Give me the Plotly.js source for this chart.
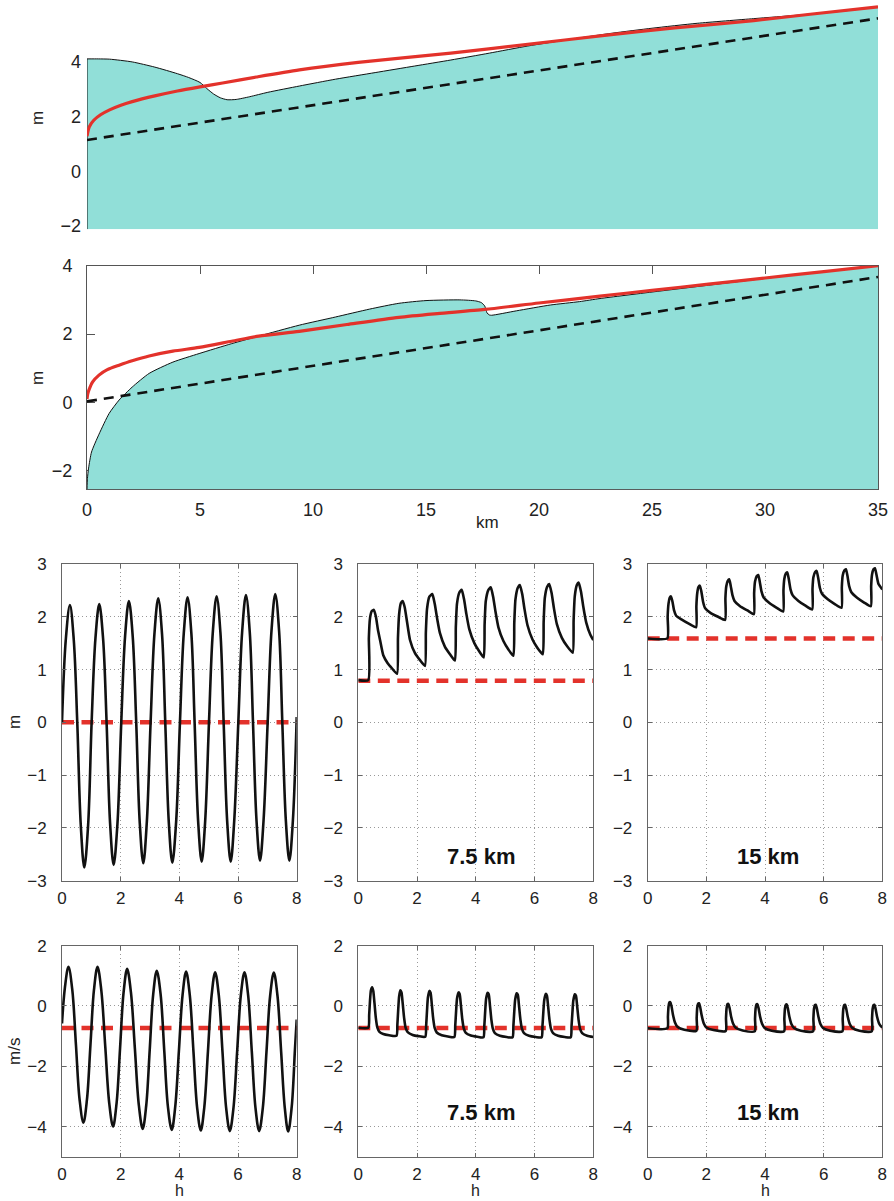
<!DOCTYPE html>
<html>
<head>
<meta charset="utf-8">
<script src="https://cdn.plot.ly/plotly-3.0.1.min.js"></script>
<style>html,body{margin:0;padding:0;background:#fff;}#chart{width:894px;height:1201px;}</style>
</head>
<body>
<div id="chart"></div>
<script>
// ---------- top panel (upper profile) ----------
const p1Km      = [0,0.5,1,2,3,4,4.5,5,5.3,5.6,5.9,6.2,6.6,7.2,8,9.4,11,12.75,14.5,16.1,17.8,19.5,21.5,23.25,25,27,29.5,31.5,33.5,35];
const p1Surface = [4.10,4.10,4.09,3.99,3.80,3.56,3.42,3.24,3.02,2.82,2.68,2.61,2.62,2.72,2.88,3.11,3.36,3.60,3.84,4.06,4.31,4.57,4.83,5.04,5.22,5.40,5.57,5.70,5.85,6.00];
const p1RedKm   = [0,0.1,0.3,0.6,1,1.5,2,3,4,5,6,7.5,9.4,12,16.1,19.5,22.8,26,29.5,32,35];
const p1Red     = [1.28,1.62,1.86,2.06,2.24,2.41,2.54,2.75,2.93,3.08,3.22,3.44,3.70,3.97,4.31,4.63,4.95,5.23,5.50,5.73,6.00];
const p1DashKm  = [0,35];
const p1Dash    = [1.14,5.58];

// ---------- second panel (lower profile) ----------
const p2Km      = [0,0.02,0.07,0.2,0.53,0.98,1.42,2,2.75,3.8,4.96,6.4,7.6,9.39,11,12.5,13.8,15,16.5,17.2,17.45,17.6,17.7,17.8,17.9,19,20.5,21.8,22.7,25,27.5,30,32.5,35];
const p2Surface = [-2.54,-2.22,-1.92,-1.45,-0.93,-0.32,0.07,0.45,0.85,1.18,1.43,1.72,1.94,2.26,2.50,2.73,2.90,2.98,3.00,2.97,2.92,2.82,2.62,2.56,2.55,2.68,2.85,2.95,3.04,3.23,3.43,3.63,3.82,4.00];
const p2RedKm   = [0,0.03,0.09,0.25,0.53,0.9,1.42,2,2.75,3.8,4.96,6.4,7.6,9.39,11.5,13.8,15.5,17.6,20,22.7,25,27.5,30,32.5,35];
const p2Red     = [0.10,0.24,0.37,0.60,0.80,0.96,1.09,1.22,1.36,1.50,1.61,1.79,1.94,2.08,2.28,2.49,2.60,2.72,2.91,3.11,3.28,3.46,3.64,3.82,4.00];
const p2DashKm  = [0,35];
const p2Dash    = [0.03,3.67];

const kmTicks = [0,5,10,15,20,25,30,35];
const mTicksTop = [-2,0,2,4];

// ---------- time series (h) ----------
const hTicks = [0,2,4,6,8];

// elevation at mouth (m)
const etaMouthT = [0,0.13,0.27,0.40,0.52,0.64,0.76,0.89, 1.01,1.14,1.27,1.40,1.52,1.64,1.76,1.89, 2.02,2.15,2.28,2.41,2.53,2.65,2.77,2.89, 3.02,3.15,3.28,3.41,3.52,3.64,3.76,3.89, 4.02,4.15,4.28,4.41,4.52,4.64,4.76,4.88, 5.01,5.14,5.27,5.40,5.51,5.63,5.75,5.87, 6.01,6.14,6.27,6.40,6.51,6.63,6.75,6.87, 7.01,7.14,7.27,7.40,7.51,7.63,7.75,7.87, 8.0];
const etaMouth  = [0,1.57,2.22,1.57,0,-1.95,-2.75,-1.95, 0,1.59,2.24,1.59,0,-1.92,-2.70,-1.92, 0,1.63,2.30,1.63,0,-1.90,-2.67,-1.90, 0,1.67,2.35,1.67,0,-1.89,-2.66,-1.89, 0,1.68,2.37,1.68,0,-1.87,-2.64,-1.87, 0,1.70,2.39,1.70,0,-1.87,-2.64,-1.87, 0,1.71,2.41,1.71,0,-1.86,-2.62,-1.86, 0,1.73,2.43,1.73,0,-1.86,-2.62,-1.86, 0.1];

// elevation at 7.5 km
const eta75T = [0,0.34,0.36,0.40,0.46,0.53,0.60,0.67,0.74,0.85,1.0,1.15,1.32,
  1.35,1.39,1.45,1.51,1.58,1.66,1.76,1.93,2.1,2.27,
  2.30,2.34,2.42,2.52,2.60,2.68,2.78,2.95,3.12,3.29,
  3.32,3.36,3.44,3.52,3.60,3.68,3.78,3.95,4.11,4.27,
  4.30,4.34,4.43,4.51,4.59,4.67,4.77,4.94,5.11,5.28,
  5.31,5.35,5.43,5.50,5.58,5.66,5.76,5.93,6.10,6.28,
  6.31,6.35,6.43,6.50,6.58,6.66,6.76,6.93,7.11,7.30,
  7.33,7.37,7.44,7.50,7.58,7.66,7.76,7.90,8.0];
const eta75 = [0.80,0.80,1.6,1.98,2.11,2.13,2.0,1.75,1.56,1.27,1.12,1.02,0.92,
  1.6,2.05,2.26,2.30,2.18,1.90,1.56,1.31,1.18,1.07,
  1.7,2.15,2.38,2.43,2.25,1.98,1.69,1.43,1.29,1.17,
  1.8,2.25,2.46,2.51,2.33,2.05,1.76,1.50,1.35,1.23,
  1.85,2.30,2.51,2.56,2.38,2.10,1.80,1.54,1.38,1.26,
  1.88,2.33,2.55,2.60,2.43,2.14,1.84,1.57,1.41,1.29,
  1.9,2.36,2.57,2.62,2.45,2.16,1.86,1.60,1.44,1.32,
  1.93,2.39,2.60,2.65,2.48,2.19,1.89,1.66,1.56];

// elevation at 15 km
const eta15T = [0,0.67,0.68,0.71,0.75,0.79,0.84,0.90,0.97,1.15,1.40,1.65,
  1.66,1.69,1.73,1.78,1.83,1.89,1.96,2.15,2.40,2.64,
  2.65,2.68,2.73,2.78,2.83,2.89,2.96,3.15,3.40,3.62,
  3.63,3.66,3.72,3.77,3.82,3.88,3.95,4.15,4.40,4.62,
  4.63,4.66,4.71,4.76,4.81,4.87,4.94,5.14,5.38,5.61,
  5.62,5.65,5.71,5.76,5.81,5.87,5.94,6.14,6.38,6.61,
  6.62,6.65,6.71,6.76,6.81,6.87,6.94,7.14,7.38,7.61,
  7.62,7.65,7.70,7.75,7.80,7.87,8.0];
const eta15 = [1.59,1.59,2.0,2.25,2.36,2.39,2.30,2.12,2.02,1.95,1.87,1.80,
  2.2,2.45,2.56,2.59,2.48,2.28,2.16,2.07,2.00,1.94,
  2.35,2.58,2.68,2.71,2.59,2.41,2.30,2.20,2.12,2.05,
  2.45,2.67,2.77,2.79,2.67,2.48,2.37,2.26,2.17,2.10,
  2.5,2.72,2.82,2.84,2.72,2.52,2.41,2.30,2.21,2.14,
  2.53,2.75,2.85,2.87,2.75,2.55,2.44,2.33,2.24,2.17,
  2.56,2.78,2.88,2.90,2.78,2.58,2.47,2.36,2.27,2.20,
  2.58,2.80,2.90,2.92,2.80,2.62,2.52];

// velocity at mouth (m/s)
const uMouthT = [0,0.10,0.22,0.35,0.475,0.60,0.73,0.85,0.97,1.09,1.21,1.34,1.475,1.61,1.74,1.86,1.98,2.10,2.22,2.35,2.485,2.62,2.75,2.87,2.99,3.11,3.23,3.36,3.485,3.61,3.74,3.86,3.985,4.11,4.23,4.355,4.48,4.605,4.73,4.85,4.975,5.10,5.22,5.345,5.47,5.595,5.72,5.845,5.97,6.095,6.22,6.345,6.47,6.595,6.72,6.845,6.97,7.095,7.22,7.345,7.47,7.595,7.71,7.83,7.94,8.0];
const uMouth  = [-0.58,0.62,1.30,0.54,-1.285,-3.11,-3.87,-3.11,-1.285,0.54,1.30,0.52,-1.35,-3.22,-4.00,-3.23,-1.385,0.46,1.23,0.45,-1.425,-3.30,-4.08,-3.31,-1.455,0.40,1.17,0.40,-1.47,-3.34,-4.11,-3.34,-1.485,0.37,1.14,0.37,-1.495,-3.36,-4.13,-3.36,-1.505,0.35,1.12,0.35,-1.515,-3.38,-4.15,-3.38,-1.515,0.35,1.12,0.35,-1.515,-3.38,-4.15,-3.38,-1.52,0.34,1.11,0.34,-1.525,-3.39,-4.16,-3.35,-1.45,-0.45];

// velocity at 7.5 km
const u75T = [0,0.34,0.37,0.40,0.43,0.47,0.51,0.55,0.60,0.65,0.72,0.85,1.05,1.30,
  1.33,1.36,1.39,1.43,1.47,1.51,1.56,1.61,1.68,1.85,2.05,2.28,
  2.31,2.34,2.37,2.42,2.46,2.50,2.55,2.60,2.67,2.84,3.05,3.27,
  3.30,3.33,3.36,3.41,3.45,3.49,3.54,3.59,3.66,3.83,4.05,4.26,
  4.29,4.32,4.35,4.40,4.44,4.48,4.53,4.58,4.65,4.82,5.05,5.25,
  5.28,5.31,5.34,5.39,5.43,5.47,5.52,5.57,5.64,5.81,6.04,6.24,
  6.27,6.30,6.33,6.38,6.42,6.46,6.51,6.56,6.63,6.80,7.03,7.23,
  7.26,7.29,7.32,7.37,7.41,7.45,7.50,7.55,7.62,7.79,8.0];
const u75 = [-0.72,-0.72,-0.30,0.20,0.52,0.62,0.50,0.10,-0.42,-0.72,-0.86,-0.93,-0.97,-0.99,
  -0.62,-0.10,0.32,0.52,0.45,0.10,-0.40,-0.72,-0.87,-0.96,-1.0,-1.02,
  -0.65,-0.14,0.28,0.50,0.44,0.08,-0.42,-0.73,-0.88,-0.97,-1.01,-1.03,
  -0.66,-0.16,0.24,0.45,0.40,0.05,-0.44,-0.74,-0.89,-0.98,-1.02,-1.04,
  -0.66,-0.17,0.23,0.44,0.39,0.04,-0.45,-0.75,-0.90,-0.99,-1.03,-1.04,
  -0.66,-0.18,0.21,0.42,0.37,0.02,-0.46,-0.75,-0.90,-0.99,-1.03,-1.04,
  -0.66,-0.19,0.19,0.40,0.35,0.01,-0.47,-0.76,-0.90,-0.99,-1.03,-1.04,
  -0.66,-0.20,0.18,0.39,0.34,0.0,-0.47,-0.76,-0.90,-0.99,-1.03];

// velocity at 15 km
const u15T = [0,0.67,0.69,0.71,0.74,0.77,0.81,0.86,0.93,1.02,1.25,1.66,
  1.67,1.69,1.72,1.75,1.79,1.84,1.91,2.00,2.24,2.66,
  2.67,2.69,2.72,2.75,2.79,2.84,2.91,3.00,3.24,3.65,
  3.66,3.68,3.71,3.74,3.78,3.83,3.90,3.99,4.23,4.65,
  4.66,4.68,4.71,4.74,4.78,4.83,4.90,4.99,5.23,5.64,
  5.65,5.67,5.70,5.73,5.77,5.82,5.89,5.98,6.22,6.64,
  6.65,6.67,6.70,6.73,6.77,6.82,6.89,6.98,7.22,7.64,
  7.65,7.67,7.70,7.73,7.77,7.82,7.89,7.95,8.0];
const u15 = [-0.74,-0.74,-0.35,-0.02,0.12,0.13,0.0,-0.28,-0.55,-0.70,-0.79,-0.82,
  -0.40,-0.05,0.08,0.09,-0.04,-0.31,-0.57,-0.71,-0.80,-0.83,
  -0.41,-0.07,0.06,0.07,-0.06,-0.33,-0.58,-0.72,-0.81,-0.84,
  -0.42,-0.08,0.05,0.06,-0.07,-0.34,-0.59,-0.73,-0.82,-0.84,
  -0.42,-0.09,0.04,0.05,-0.08,-0.35,-0.60,-0.73,-0.82,-0.84,
  -0.43,-0.10,0.03,0.04,-0.09,-0.35,-0.60,-0.73,-0.82,-0.84,
  -0.43,-0.10,0.03,0.04,-0.09,-0.35,-0.60,-0.73,-0.82,-0.84,
  -0.43,-0.10,0.03,0.04,-0.09,-0.35,-0.58,-0.67,-0.71];

// mean (red dashed) levels
const refT       = [0,8];
const etaMeanMouth = [0,0];
const etaMean75  = [0.79,0.79];
const etaMean15  = [1.59,1.59];
const uMean      = [-0.73,-0.73];

const stationLabels = ['7.5 km','15 km'];

// ---------- styling ----------
const RED = '#e3322b';
const CYAN = '#91dfd8';
const FONT = 'Liberation Sans, Arial, Helvetica, sans-serif';
const W = 894, H = 1201;
const fx = p => p / W;
const fy = p => 1 - p / H;

const P1_YMIN = -2.12, P1_YMAX = 6.25;
const P2_YMIN = -2.54, P2_YMAX = 4;

const traces = [];
function profile(xa, ya, km, surf, ymin, dashKm, dash, redKm, red) {
  const xEnds = [km[0], km[km.length-1]];
  traces.push({x: xEnds, y: [ymin, ymin], xaxis:xa, yaxis:ya, mode:'lines', line:{width:0, color:'rgba(0,0,0,0)'}, hoverinfo:'skip'});
  traces.push({x: km, y: surf, xaxis:xa, yaxis:ya, mode:'lines', fill:'tonexty', fillcolor:CYAN,
    line:{color:'#111', width:1, shape:'spline', smoothing:0.6}});
  traces.push({x: [km[0], km[0]], y: [ymin, surf[0]], xaxis:xa, yaxis:ya, mode:'lines', line:{color:'#111', width:1}});
  traces.push({x: dashKm, y: dash, xaxis:xa, yaxis:ya, mode:'lines', line:{color:'#111', width:2.6, dash:'10px,7px'}});
  traces.push({x: redKm, y: red, xaxis:xa, yaxis:ya, mode:'lines', line:{color:RED, width:3.2, shape:'spline', smoothing:0.7}});
}
profile('x','y', p1Km, p1Surface, P1_YMIN, p1DashKm, p1Dash, p1RedKm, p1Red);
profile('x2','y2', p2Km, p2Surface, P2_YMIN, p2DashKm, p2Dash, p2RedKm, p2Red);

const series = [
  [etaMouthT, etaMouth, etaMeanMouth, 'x3','y3', 1],
  [eta75T, eta75, etaMean75, 'x4','y4', 0.5],
  [eta15T, eta15, etaMean15, 'x5','y5', 0.5],
  [uMouthT, uMouth, uMean, 'x6','y6', 1],
  [u75T, u75, uMean, 'x7','y7', 0.6],
  [u15T, u15, uMean, 'x8','y8', 0.6]
];
series.forEach(s => {
  traces.push({x: refT, y: s[2], xaxis:s[3], yaxis:s[4], mode:'lines', line:{color:RED, width:4.5, dash:'12px,7.5px'}});
  traces.push({x: s[0], y: s[1], xaxis:s[3], yaxis:s[4], mode:'lines', line:{color:'#111', width:2.6, shape:'spline', smoothing:s[5]}});
});

const layout = {
  width: W, height: H, margin:{l:0,r:0,t:0,b:0}, showlegend:false,
  paper_bgcolor:'#fff', plot_bgcolor:'rgba(0,0,0,0)',
  font:{family:FONT, size:17, color:'#222'},
  xaxis:{domain:[fx(87), fx(878)], range:[0,35], anchor:'y', visible:false, fixedrange:true},
  yaxis:{domain:[fy(229.3), 1], range:[P1_YMIN, P1_YMAX], anchor:'x', tickvals:mTicksTop, showline:false, showgrid:false,
    zeroline:false, ticks:'', ticklabelstandoff:5, tickfont:{size:18}},
  xaxis2:{domain:[fx(87), fx(878)], range:[0,35], anchor:'y2', tickvals:kmTicks, showline:true, mirror:'ticks', linecolor:'#555',
    ticks:'inside', ticklen:8, tickcolor:'#555', showgrid:false, zeroline:false, layer:'below traces', tickfont:{size:18}, ticklabelstandoff:4},
  yaxis2:{domain:[fy(489.3), fy(265.7)], range:[P2_YMIN, P2_YMAX], anchor:'x2', tickvals:mTicksTop, showline:true, mirror:'ticks', linecolor:'#555',
    ticks:'inside', ticklen:8, tickcolor:'#555', showgrid:false, zeroline:false, layer:'below traces', tickfont:{size:18}, ticklabelstandoff:10},
  annotations:[]
};

const cols = [[62,296.7],[358.3,593.3],[647.7,882.3]];
const rows = [[564,880.7,[-3,3],[-3,-2,-1,0,1,2,3]],[945.7,1156.7,[-5,2],[-4,-2,0,2]]];
let n = 3;
rows.forEach((r, ri) => {
  cols.forEach((c, ci) => {
    const common = {showline:true, mirror:'ticks', linecolor:'#666', linewidth:1, ticks:'inside', ticklen:4, tickcolor:'#666',
      showgrid:true, gridcolor:'#999', griddash:'1px,3px', gridwidth:1, zeroline:false, tickfont:{size:17}, fixedrange:true};
    layout['xaxis'+n] = Object.assign({}, common, {domain:[fx(c[0]), fx(c[1])], range:[0,8], tickvals:hTicks, anchor:'y'+n, ticklabelstandoff:2});
    layout['yaxis'+n] = Object.assign({}, common, {domain:[fy(r[1]), fy(r[0])], range:r[2], tickvals:r[3], anchor:'x'+n, ticklabelstandoff:11});
    n++;
  });
});

function ann(text, px, py, opts) {
  layout.annotations.push(Object.assign({text:text, x:fx(px), y:fy(py), xref:'paper', yref:'paper', showarrow:false,
    xanchor:'center', yanchor:'middle', font:{family:FONT, size:17, color:'#222'}}, opts || {}));
}
ann('m', 37, 118, {textangle:-90});
ann('m', 37, 378, {textangle:-90});
ann('km', 487, 522);
ann('m', 14, 722, {textangle:-90});
ann('m/s', 14, 1052, {textangle:-90});
cols.forEach(c => ann('h', (c[0]+c[1])/2, 1201, {yanchor:'bottom', font:{family:FONT, size:16, color:'#222'}}));
[[481.7, 856],[768, 856],[481.7, 1112.5],[768, 1112.5]].forEach((p, i) => {
  ann('<b>' + stationLabels[i % 2] + '</b>', p[0], p[1], {font:{family:FONT, size:22, color:'#111'}});
});

Plotly.newPlot('chart', traces, layout, {staticPlot:true, displayModeBar:false});
</script>
</body>
</html>
